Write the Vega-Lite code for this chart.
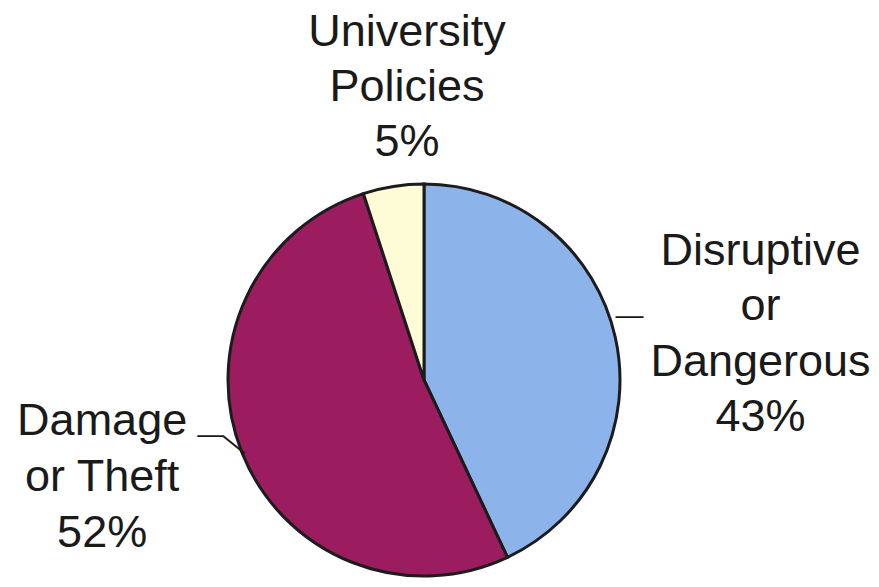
{
  "$schema": "https://vega.github.io/schema/vega-lite/v6.json",
  "width": 848,
  "height": 414,
  "autosize": "none",
  "padding": {"left": 0, "top": 173, "right": 31, "bottom": 0},
  "background": "white",
  "config": {"view": {"stroke": null}},
  "data": {
    "values": [
      {"category": "Disruptive or Dangerous", "label": "Disruptive\nor\nDangerous\n43%", "pct": 43, "rank": 1},
      {"category": "Damage or Theft", "label": "Damage\nor Theft\n52%", "pct": 52, "rank": 2},
      {"category": "University Policies", "label": "University\nPolicies\n5%", "pct": 5, "rank": 3}
    ]
  },
  "encoding": {
    "theta": {"field": "pct", "type": "quantitative", "stack": true},
    "order": {"field": "rank", "type": "quantitative"}
  },
  "layer": [
    {
      "mark": {"type": "arc", "outerRadius": 196, "stroke": "#1c1c1c", "strokeWidth": 3},
      "encoding": {
        "color": {
          "field": "category",
          "type": "nominal",
          "scale": {
            "domain": ["Disruptive or Dangerous", "Damage or Theft", "University Policies"],
            "range": ["#8cb4ea", "#9c1c60", "#fdfcd7"]
          },
          "legend": null
        }
      }
    },
    {
      "mark": {"type": "text", "radius": 230, "dx": 112, "dy": -79, "font": "Liberation Sans", "fontSize": 45, "lineHeight": 55.5, "lineBreak": "\n", "align": "center", "baseline": "middle", "color": "#1a1a1a"},
      "encoding": {"text": {"condition": {"test": "datum.rank === 1", "field": "label"}, "value": ""}}
    },
    {
      "mark": {"type": "text", "radius": 230, "dx": -108, "dy": -44, "font": "Liberation Sans", "fontSize": 45, "lineHeight": 56, "lineBreak": "\n", "align": "center", "baseline": "middle", "color": "#1a1a1a"},
      "encoding": {"text": {"condition": {"test": "datum.rank === 2", "field": "label"}, "value": ""}}
    },
    {
      "mark": {"type": "text", "radius": 230, "dx": 19, "dy": -121, "font": "Liberation Sans", "fontSize": 45, "lineHeight": 55, "lineBreak": "\n", "align": "center", "baseline": "middle", "color": "#1a1a1a"},
      "encoding": {"text": {"condition": {"test": "datum.rank === 3", "field": "label"}, "value": ""}}
    },
    {
      "mark": {"type": "text", "radius": 230, "dx": -19, "dy": -14, "font": "Liberation Sans", "fontSize": 28, "align": "center", "baseline": "middle", "color": "#1a1a1a"},
      "encoding": {"text": {"condition": {"test": "datum.rank === 1", "value": "—"}, "value": ""}}
    },
    {
      "mark": {"type": "text", "radius": 230, "dx": 0, "dy": -30, "font": "Liberation Sans", "fontSize": 26, "align": "center", "baseline": "middle", "color": "#1a1a1a"},
      "encoding": {"text": {"condition": {"test": "datum.rank === 2", "value": "—"}, "value": ""}}
    },
    {
      "mark": {"type": "text", "radius": 230, "dx": 5.6, "dy": -31.2, "angle": 39, "font": "Liberation Sans", "fontSize": 28, "align": "center", "baseline": "middle", "color": "#1a1a1a"},
      "encoding": {"text": {"condition": {"test": "datum.rank === 2", "value": "—"}, "value": ""}}
    }
  ]
}
